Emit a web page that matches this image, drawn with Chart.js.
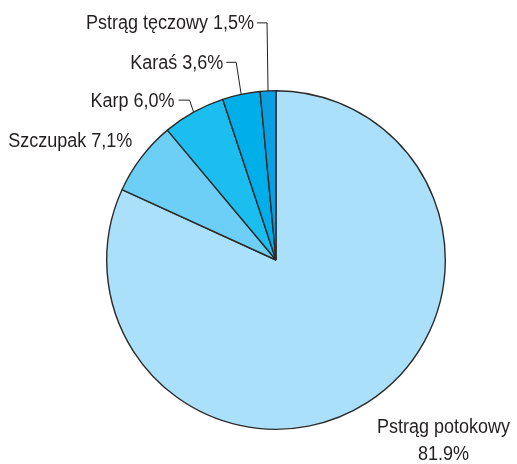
<!DOCTYPE html>
<html>
<head>
<meta charset="utf-8">
<script src="https://cdn.jsdelivr.net/npm/chart.js@4.4.0/dist/chart.umd.min.js"></script>
<style>
  html, body { margin: 0; padding: 0; background: #fff; }
  #wrap { width: 517px; height: 464px; }
</style>
</head>
<body>
<div id="wrap"><canvas id="c" width="517" height="464"></canvas></div>
<script>
// ---- data ----
const categories = ["Pstrąg potokowy", "Szczupak", "Karp", "Karaś", "Pstrąg tęczowy"];
const values = [81.9, 7.1, 6.0, 3.6, 1.5];
const valueLabels = ["81.9%", "7,1%", "6,0%", "3,6%", "1,5%"];

// ---- styles ----
const colors = ["#abe0fa", "#6dcff5", "#1cbef0", "#00aeea", "#0a9fe0"];
// label placement relative to the slice's outer mid-point
const labelStyle = [
  { mode: "center2", dx: 76, dy: 25 },
  { mode: "plain", dx: -9, dy: -16 },
  { mode: "leader", ex: -4, ey: -12, hl: 11, gap: 4 },
  { mode: "leader", ex: -5, ey: -32, hl: 10, gap: 3 },
  { mode: "leader", ex: -1, ey: -68, hl: 10, gap: 3 }
];
const FONT = '20px "Liberation Sans", Arial, sans-serif';
const SQUEEZE = 0.9;

function drawText(ctx, text, x, y, align) {
  ctx.save();
  ctx.translate(x, y);
  ctx.scale(SQUEEZE, 1);
  ctx.textAlign = align;
  ctx.textBaseline = "middle";
  ctx.fillText(text, 0, 0);
  ctx.restore();
}

const labelPlugin = {
  id: "sliceLabels",
  afterDatasetsDraw(chart) {
    const ctx = chart.ctx;
    const meta = chart.getDatasetMeta(0);
    ctx.save();
    ctx.font = FONT;
    ctx.fillStyle = "#231f20";
    ctx.strokeStyle = "#231f20";
    ctx.lineWidth = 1;
    meta.data.forEach((arc, i) => {
      const p = arc.getProps(["x", "y", "startAngle", "endAngle", "outerRadius"], true);
      const mid = (p.startAngle + p.endAngle) / 2;
      const px = p.x + Math.cos(mid) * p.outerRadius;
      const py = p.y + Math.sin(mid) * p.outerRadius;
      const s = labelStyle[i];
      if (s.mode === "center2") {
        drawText(ctx, categories[i], px + s.dx, py + s.dy, "center");
        drawText(ctx, valueLabels[i], px + s.dx, py + s.dy + 27, "center");
      } else if (s.mode === "plain") {
        drawText(ctx, categories[i] + " " + valueLabels[i], px + s.dx, py + s.dy, "right");
      } else {
        const ex = px + s.ex, ey = py + s.ey;
        ctx.beginPath();
        ctx.moveTo(px, py);
        ctx.lineTo(ex, ey);
        ctx.lineTo(ex - s.hl, ey);
        ctx.stroke();
        drawText(ctx, categories[i] + " " + valueLabels[i], ex - s.hl - s.gap, ey + 1, "right");
      }
    });
    ctx.restore();
  }
};

new Chart(document.getElementById("c"), {
  type: "pie",
  data: {
    labels: categories,
    datasets: [{
      data: values,
      backgroundColor: colors,
      borderColor: "#2b2b2b",
      borderWidth: 1.4,
      borderAlign: "center"
    }]
  },
  options: {
    responsive: false,
    animation: false,
    layout: { padding: { top: 90, bottom: 34, left: 106, right: 71 } },
    plugins: { legend: { display: false }, tooltip: { enabled: false } }
  },
  plugins: [labelPlugin]
});
</script>
</body>
</html>
